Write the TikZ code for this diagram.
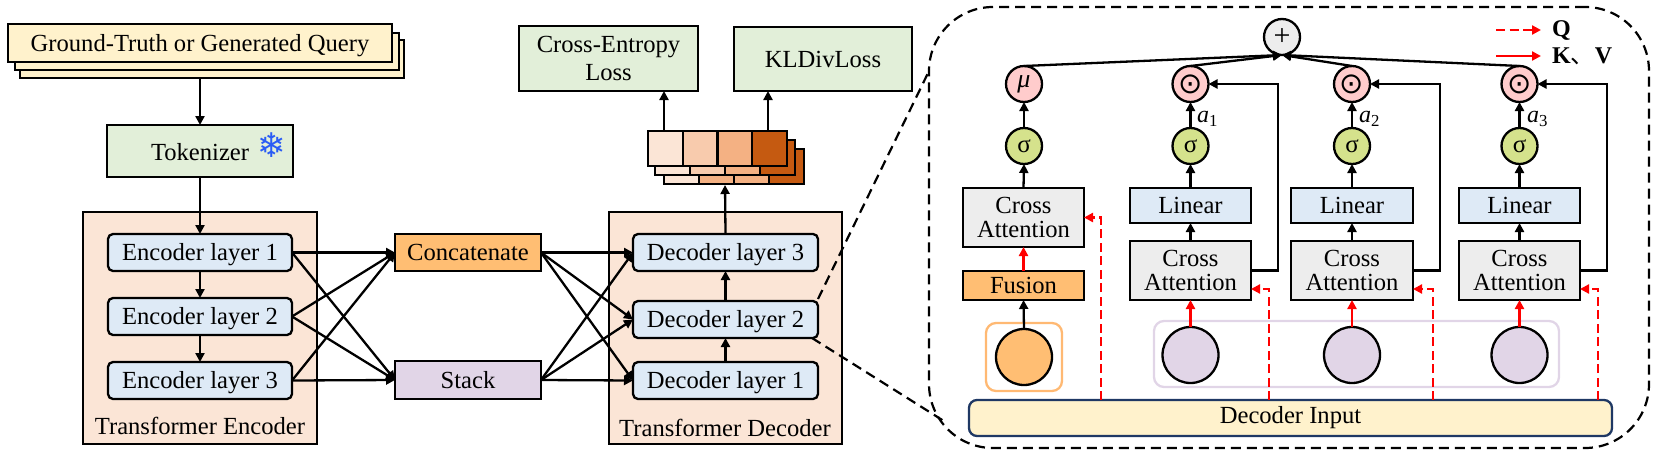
\documentclass[tikz,border=0pt]{standalone}
\usepackage{fontspec}
\setmainfont{Liberation Serif}
\newfontfamily\djv{DejaVu Sans}
\newfontfamily\cjk{Noto Sans CJK SC}
\usetikzlibrary{arrows.meta}
\definecolor{cgreen}{HTML}{E2EFD9}
\definecolor{cblue}{HTML}{DEEAF6}
\definecolor{cpeach}{HTML}{FBE5D6}
\definecolor{corange}{HTML}{FFBE73}
\definecolor{cpurple}{HTML}{E1D5E7}
\definecolor{cgray}{HTML}{EDEDED}
\definecolor{cpink}{HTML}{FFCCCC}
\definecolor{csig}{HTML}{D5E28C}
\definecolor{cyellow}{HTML}{FFF2CC}
\definecolor{cnavy}{HTML}{1F3864}
\definecolor{csnow}{HTML}{2A5CF5}
\definecolor{torA}{HTML}{FBE5D6}
\definecolor{torB}{HTML}{F8CBAD}
\definecolor{torC}{HTML}{F4B183}
\definecolor{torD}{HTML}{C55A11}
\newcommand{\bx}[6][]{\node[basebox,#1,minimum width={(#4-#2)*1pt},minimum height={(#5-#3)*1pt}] (#6) at ({(#2+#4)/2},{(#3+#5)/2})}
\tikzset{
  basebox/.style={draw=black,line width=2.3pt,inner sep=0pt,outer sep=0pt,align=center,font=\fontsize{24.6}{23.5}\selectfont},
  captext/.style={text height=16.5pt,text depth=0pt},
  layerbox/.style={fill=cblue,rounded corners=5pt,captext},
  arr/.style={-{Triangle[length=9pt,width=9pt]},line width=2.3pt,black},
  redarr/.style={-{Triangle[length=9pt,width=9pt]},line width=2.3pt,red},
  reddash/.style={redarr,dash pattern=on 9pt off 4.5pt},
  zoomline/.style={line width=2.2pt,dash pattern=on 10pt off 6pt},
  dot/.style={circle,draw=black,line width=2.3pt,minimum size=36pt,inner sep=0pt,outer sep=0pt},
  sigdot/.style={dot,fill=csig,font=\fontsize{25}{25}\selectfont},
  muldot/.style={dot,fill=cpink,font=\djv\fontsize{29}{29}\selectfont},
  bigdot/.style={circle,draw=black,line width=2.3pt,minimum size=56pt,inner sep=0pt,outer sep=0pt},
  lab/.style={inner sep=0pt,font=\fontsize{24.6}{26}\selectfont},
  alab/.style={inner sep=0pt,font=\fontsize{24}{24}\selectfont\itshape},
  legend/.style={inner sep=0pt,anchor=west,font=\fontsize{24}{24}\selectfont\bfseries},
}
\begin{document}
\begin{tikzpicture}[x=1pt,y=-1pt]
\useasboundingbox (0,0) rectangle (1661,453);
% query stack
\bx[fill=cyellow]{20}{40}{404}{78}{q3}{};
\bx[fill=cyellow]{15}{33}{399}{70}{q2}{};
\bx[fill=cyellow,captext]{8}{24}{392}{62}{q1}{Ground-Truth or Generated Query};
\bx[fill=cgreen]{107}{125}{293}{177}{tok}{};
\node[lab] (toktext) at (200,152) {Tokenizer};
\node[inner sep=0pt,text=csnow,font=\djv\fontsize{34}{34}\selectfont] (snow) at (272,145) {❄};
% encoder
\bx[fill=cpeach]{83}{212}{317}{444}{encbox}{};
\node[lab] (enctitle) at (200,426) {Transformer Encoder};
\bx[layerbox]{108}{234}{292}{271}{e1}{Encoder layer 1};
\bx[layerbox]{108}{298}{292}{335}{e2}{Encoder layer 2};
\bx[layerbox]{108}{362}{292}{399}{e3}{Encoder layer 3};
% decoder
\bx[fill=cpeach]{609}{212}{842}{444}{decbox}{};
\node[lab] (dectitle) at (725,428) {Transformer Decoder};
\bx[layerbox]{633}{234}{818}{271}{d3}{Decoder layer 3};
\bx[layerbox]{633}{301}{818}{338}{d2}{Decoder layer 2};
\bx[layerbox]{633}{362}{818}{399}{d1}{Decoder layer 1};
% middle
\bx[fill=corange,captext]{395}{234}{541}{271}{con}{Concatenate};
\bx[fill=cpurple,captext]{395}{361}{541}{399}{stk}{Stack};
% losses
\bx[fill=cgreen,text depth=1pt]{519}{26}{698}{91}{ce}{Cross-Entropy\\[4.5pt]Loss};
\bx[fill=cgreen,captext]{734}{27}{912}{91}{kl}{KLDivLoss};
% token stack
\bx[fill=torA]{664}{149}{699}{184}{c31}{};
\bx[fill=torC]{699}{149}{734}{184}{c32}{};
\bx[fill=torC]{734}{149}{769}{184}{c33}{};
\bx[fill=torD]{769}{149}{804}{184}{c34}{};
\bx[fill=torA]{655}{140}{690}{175}{c21}{};
\bx[fill=torB]{690}{140}{725}{175}{c22}{};
\bx[fill=torC]{725}{140}{760}{175}{c23}{};
\bx[fill=torD]{760}{140}{795}{175}{c24}{};
\bx[fill=torA]{648}{131}{683}{166}{c11}{};
\bx[fill=torB]{683}{131}{717.5}{166}{c12}{};
\bx[fill=torC]{717.5}{131}{752}{166}{c13}{};
\bx[fill=torD]{752}{131}{787}{166}{c14}{};
% left arrows
\draw[arr] (q3.south -| tok.north) -- (tok.north);
\draw[arr] (tok.south) -- (e1.north);
\draw[arr] (e1.south) -- (e2.north);
\draw[arr] (e2.south) -- (e3.north);
\foreach \s in {e1,e2,e3}{
  \draw[arr] (\s.east) -- (con.west);
  \draw[arr] (\s.east) -- (stk.west);
}
\foreach \t in {d1,d2,d3}{
  \draw[arr] (con.east) -- (\t.west);
  \draw[arr] (stk.east) -- (\t.west);
}
\draw[arr] (d1.north) -- (d2.south);
\draw[arr] (d2.north) -- (d3.south);
\coordinate (tokin) at (725,185);
\draw[arr] (d3.north) -- (tokin);
\coordinate (ceout) at (664,131);
\coordinate (klout) at (768,131);
\draw[arr] (ceout) -- (ce.south -| ceout);
\draw[arr] (klout) -- (kl.south -| klout);
% zoom panel
\node[draw=black,zoomline,rounded corners=64pt,minimum width=720pt,minimum height=441pt,inner sep=0pt,outer sep=0pt] (panel) at (1289,227.5) {};
\coordinate (zt) at (929,71);
\coordinate (zb) at (947,423);
\draw[zoomline] ([yshift=2pt]d2.north east) -- (zt);
\draw[zoomline] ([xshift=-6pt]d2.south east) -- (zb);
% panel groups
\bx[draw=orange!55!white,rounded corners=10pt]{986}{323}{1062}{391}{ogroup}{};
\bx[draw=cpurple,rounded corners=10pt]{1154}{321}{1559}{387}{pgroup}{};
\bx[draw=cnavy,fill=cyellow,rounded corners=8pt]{969}{400}{1612}{436}{di}{Decoder Input};
% column 0
\node[bigdot,fill=corange] (b0) at (1024,357) {};
\bx[fill=corange]{963}{271}{1084}{300}{fus}{Fusion};
\bx[fill=cgray]{963}{188}{1084}{247}{ca0}{Cross\\Attention};
\node[sigdot] (s0) at (1024,146) {σ};
\node[dot,fill=cpink,font=\fontsize{26}{26}\selectfont\itshape] (mu) at (1024,84) {μ};
% columns 1-3
\bx[fill=cgray]{1130}{241}{1251}{300}{ca1}{Cross\\Attention};
\bx[fill=cgray]{1291}{241}{1413}{300}{ca2}{Cross\\Attention};
\bx[fill=cgray]{1459}{241}{1580}{300}{ca3}{Cross\\Attention};
\bx[fill=cblue]{1130}{188}{1251}{223}{li1}{Linear};
\bx[fill=cblue]{1291}{188}{1413}{223}{li2}{Linear};
\bx[fill=cblue]{1459}{188}{1580}{223}{li3}{Linear};
\node[sigdot] (s1) at (1190.5,146) {σ};
\node[sigdot] (s2) at (1352,146) {σ};
\node[sigdot] (s3) at (1519.5,146) {σ};
\node[muldot] (m1) at (1190.5,84) {⊙};
\node[muldot] (m2) at (1352,84) {⊙};
\node[muldot] (m3) at (1519.5,84) {⊙};
\node[bigdot,fill=cpurple] (b1) at (1190.5,355) {};
\node[bigdot,fill=cpurple] (b2) at (1352,355) {};
\node[bigdot,fill=cpurple] (b3) at (1519.5,355) {};
\node[dot,fill=cgray,font=\fontsize{30}{30}\selectfont] (plus) at (1282,37) {+};
\node[alab,anchor=west] (a1) at (1197,119) {a\textsubscript{\upshape 1}};
\node[alab,anchor=west] (a2) at (1359,119) {a\textsubscript{\upshape 2}};
\node[alab,anchor=west] (a3) at (1527,119) {a\textsubscript{\upshape 3}};
% panel arrows
\draw[arr] (b0.north) -- (fus.south);
\draw[redarr] (fus.north) -- (ca0.south);
\draw[arr] (ca0.north) -- (s0.south);
\draw[arr] (s0.north) -- (mu.south);
\foreach \i in {1,2,3}{
  \draw[redarr] (b\i.north) -- (ca\i.south);
  \draw[arr] (ca\i.north) -- (li\i.south);
  \draw[arr] (li\i.north) -- (s\i.south);
  \draw[arr] (s\i.north) -- (m\i.south);
  \draw[arr] (ca\i.east) -- ++(27,0) |- (m\i.east);
}
\foreach \s in {mu,m1,m2,m3}{ \draw[arr] (\s.north) -- (plus.south); }
% red dashed Q lines
\coordinate (qf0) at (1101,400);
\coordinate (qf1) at (1269,400);
\coordinate (qf2) at (1433,400);
\coordinate (qf3) at (1598,400);
\coordinate (qt1) at (1251,289);
\coordinate (qt2) at (1413,289);
\coordinate (qt3) at (1580,289);
\draw[reddash] (qf0) |- (ca0.east);
\draw[reddash] (qf1) |- (qt1);
\draw[reddash] (qf2) |- (qt2);
\draw[reddash] (qf3) |- (qt3);
% legend
\coordinate (l1a) at (1496,30);
\coordinate (l1b) at (1541,30);
\coordinate (l2a) at (1496,56);
\coordinate (l2b) at (1541,56);
\draw[reddash] (l1a) -- (l1b);
\draw[redarr] (l2a) -- (l2b);
\node[legend] (lq) at (1552,30) {Q};
\node[legend] (lk) at (1552,56) {K{\normalfont\cjk 、}V};
\end{tikzpicture}
\end{document}
